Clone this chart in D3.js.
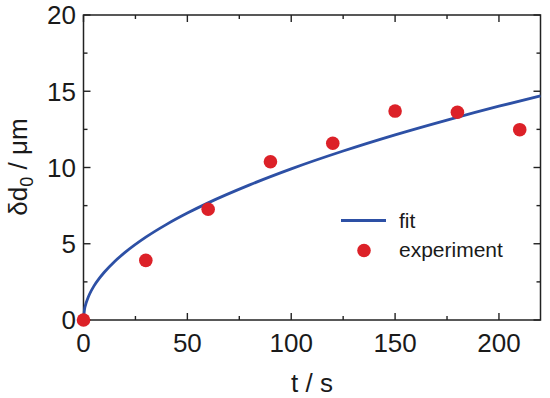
<!DOCTYPE html>
<html>
<head>
<meta charset="utf-8">
<script src="https://cdn.jsdelivr.net/npm/d3@7/dist/d3.min.js"></script>
<style>
  html, body { margin: 0; padding: 0; background: #fff; }
  svg { display: block; }
  text { font-family: "Liberation Sans", Arial, Helvetica, sans-serif; fill: #1a1a1a; }
</style>
</head>
<body>
<svg id="chart" width="550" height="398"></svg>
<script>
// Experimental data (t in s, δd0 in µm)
const expT = [0, 30, 60, 90, 120, 150, 180, 210];
const expD = [0, 3.91, 7.26, 10.38, 11.59, 13.70, 13.62, 12.48];

// Fit curve values
const fitT = [0, 0.5, 1, 2, 3, 5, 7.5, 10, 15, 20, 30, 40, 50, 60, 80, 100, 125, 150, 175, 200, 220];
const fitD = [0, 0.70, 0.99, 1.40, 1.72, 2.22, 2.71, 3.13, 3.84, 4.43, 5.43, 6.27, 7.01, 7.68, 8.86, 9.91, 11.08, 12.14, 13.11, 14.02, 14.70];

const xMajor = [0, 50, 100, 150, 200];
const xMinor = [25, 75, 125, 175];
const yMajor = [0, 5, 10, 15, 20];
const yMinor = [2.5, 7.5, 12.5, 17.5];

const svg = d3.select("#chart");
const L = 83.5, R = 540.5, T = 15, B = 320;
const x = d3.scaleLinear().domain([0, 220]).range([L, R]);
const y = d3.scaleLinear().domain([0, 20]).range([B, T]);

const axisColor = "#222";
const majorLen = 7, minorLen = 4;

// Ticks (inward, all four sides)
const tickG = svg.append("g").attr("stroke", axisColor).attr("stroke-width", 1.4);
function xt(vals, len) {
  vals.forEach(v => {
    tickG.append("line").attr("x1", x(v)).attr("x2", x(v)).attr("y1", B).attr("y2", B - len);
    tickG.append("line").attr("x1", x(v)).attr("x2", x(v)).attr("y1", T).attr("y2", T + len);
  });
}
function yt(vals, len) {
  vals.forEach(v => {
    tickG.append("line").attr("y1", y(v)).attr("y2", y(v)).attr("x1", L).attr("x2", L + len);
    tickG.append("line").attr("y1", y(v)).attr("y2", y(v)).attr("x1", R).attr("x2", R - len);
  });
}
xt(xMajor, majorLen); xt(xMinor, minorLen);
yt(yMajor, majorLen); yt(yMinor, minorLen);

// Frame
svg.append("rect").attr("x", L).attr("y", T).attr("width", R - L).attr("height", B - T)
  .attr("fill", "none").attr("stroke", axisColor).attr("stroke-width", 1.5);

// Tick labels
svg.append("g").selectAll("text").data(xMajor).join("text")
  .attr("x", d => x(d)).attr("y", 352).attr("text-anchor", "middle")
  .attr("font-size", 26).text(d => d);
svg.append("g").selectAll("text").data(yMajor).join("text")
  .attr("x", 76).attr("y", d => y(d) + 9.3).attr("text-anchor", "end")
  .attr("font-size", 26).text(d => d);

// Axis titles
svg.append("text").attr("x", x(110)).attr("y", 392).attr("text-anchor", "middle")
  .attr("font-size", 26).text("t / s");
const yl = svg.append("text").attr("transform", "translate(27,167) rotate(-90)")
  .attr("text-anchor", "middle").attr("font-size", 26);
yl.append("tspan").text("δd");
yl.append("tspan").attr("font-size", 18).attr("dy", 6).text("0");
yl.append("tspan").attr("dy", -6).text(" / μm");

// Fit line
const fitData = fitT.map((t, i) => [t, fitD[i]]);
svg.append("path").datum(fitData)
  .attr("d", d3.line().x(d => x(d[0])).y(d => y(d[1])).curve(d3.curveMonotoneX))
  .attr("fill", "none").attr("stroke", "#2d50a5").attr("stroke-width", 2.8);

// Experimental points
svg.append("g").selectAll("circle").data(expT.map((t, i) => [t, expD[i]])).join("circle")
  .attr("cx", d => x(d[0])).attr("cy", d => y(d[1])).attr("r", 6.8).attr("fill", "#dc2128");

// Legend
svg.append("line").attr("x1", 341).attr("x2", 386).attr("y1", 220.5).attr("y2", 220.5)
  .attr("stroke", "#2d50a5").attr("stroke-width", 2.8);
svg.append("text").attr("x", 399).attr("y", 228).attr("font-size", 21).text("fit");
svg.append("circle").attr("cx", 364).attr("cy", 250.5).attr("r", 6.8).attr("fill", "#dc2128");
svg.append("text").attr("x", 399).attr("y", 257).attr("font-size", 21).text("experiment");
</script>
</body>
</html>
